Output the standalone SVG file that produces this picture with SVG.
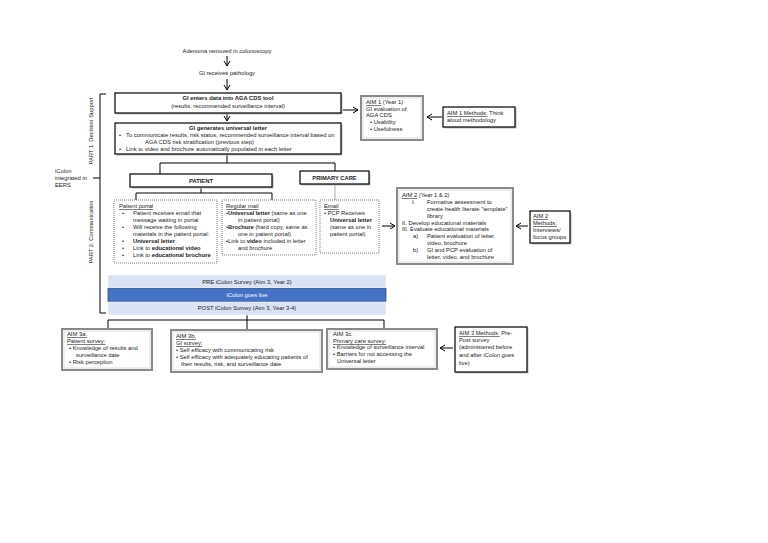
<svg xmlns="http://www.w3.org/2000/svg" width="768" height="543" viewBox="0 0 768 543">
<style>
text{font-family:"Liberation Sans",Arial,sans-serif;font-size:5.8px;fill:#222}
.b{font-weight:bold}
.c{text-anchor:middle}
.u{text-decoration:underline}
.blk{fill:#fff;stroke:#000;stroke-width:1.2}
.shd{fill:#bdbdbd;stroke:none}
.gry{fill:#fff;stroke:#8a8a8a;stroke-width:2}
.gin{fill:none;stroke:#d4d4d4;stroke-width:0.8}
.dot{fill:#fff;stroke:#555;stroke-width:0.8;stroke-dasharray:1 1}
.ln{fill:none;stroke:#000;stroke-width:1}
.bar{fill:#dae3f3;stroke:#fff;stroke-width:0.5}
</style>
<defs>
<marker id="ah" markerWidth="8" markerHeight="8" refX="6" refY="4" orient="auto" markerUnits="userSpaceOnUse">
<path d="M1,1 L6,4 L1,7" fill="none" stroke="#000" stroke-width="1"/>
</marker>
</defs>
<rect width="768" height="543" fill="#fff"/>

<g id="connectors">
<line class="ln" x1="227" y1="56" x2="227" y2="66" marker-end="url(#ah)"/>
<line class="ln" x1="227" y1="79" x2="227" y2="90" marker-end="url(#ah)"/>
<line class="ln" x1="227" y1="113" x2="227" y2="121" marker-end="url(#ah)"/>
<line class="ln" x1="343" y1="110" x2="358" y2="110" marker-end="url(#ah)"/>
<line class="ln" x1="442" y1="117" x2="427" y2="117" marker-end="url(#ah)"/>
<polyline class="ln" points="227,154 227,163"/>
<polyline class="ln" points="160,174 160,163 335,163 335,171"/>
<polyline class="ln" points="201,187 201,193"/>
<polyline class="ln" points="136,200 136,193 272,193 272,200"/>
<polyline class="ln" points="335,184 335,200" style="stroke:#888;stroke-width:0.7"/>
<line class="ln" x1="382" y1="226" x2="395" y2="226" marker-end="url(#ah)"/>
<line class="ln" x1="528" y1="226" x2="516" y2="226" marker-end="url(#ah)"/>
<polyline class="ln" points="247,315 247,320"/>
<polyline class="ln" points="108,329 108,320 384,320 384,329"/>
<polyline class="ln" points="247,320 247,330"/>
<line class="ln" x1="453" y1="348" x2="440" y2="348" marker-end="url(#ah)"/>
<polyline class="ln" points="106,94 100,94 100,313 106,313"/>
<line class="ln" x1="93" y1="178" x2="100" y2="178"/>
</g>

<g id="labels">
<text class="c" x="227" y="53">Adenoma removed in colonoscopy</text>
<text class="c" x="227" y="75">GI receives pathology</text>
<text transform="translate(93,131) rotate(-90)" class="c">PART 1. Decision Support</text>
<text transform="translate(93,232) rotate(-90)" class="c">PART 2. Communication</text>
<text x="55" y="173">iColon</text>
<text x="55" y="180">integrated in</text>
<text x="55" y="187">EERS</text>
</g>

<g id="gi-enters">
<rect class="shd" x="116.5" y="94.5" width="226" height="20"/>
<rect class="blk" x="115" y="93" width="226" height="20"/>
<text class="c b" x="228" y="100">GI enters data into AGA CDS tool</text>
<text class="c" x="228" y="108">(results, recommended surveillance interval)</text>
</g>

<g id="gi-generates">
<rect class="shd" x="116.5" y="124.5" width="226" height="31"/>
<rect class="blk" x="115" y="123" width="226" height="31"/>
<text class="c b" x="228" y="130">GI generates universal letter</text>
<text x="119" y="137">•</text>
<text x="126" y="137">To communicate results, risk status, recommended surveillance interval based on</text>
<text x="145" y="144">AGA CDS risk stratification (previous step)</text>
<text x="119" y="151">•</text>
<text x="126" y="151">Link to video and brochure automatically populated in each letter</text>
</g>

<g id="aim1">
<rect class="gry" x="361" y="96" width="62" height="44"/>
<rect class="gin" x="363" y="98" width="58" height="40"/>
<text x="366" y="104"><tspan class="u">AIM 1</tspan>  (Year 1)</text>
<text x="366" y="111">GI evaluation of</text>
<text x="366" y="117">AGA CDS</text>
<text x="370" y="124">•   Usability</text>
<text x="370" y="131">•   Usefulness</text>
</g>

<g id="aim1-methods">
<rect class="shd" x="444.5" y="108.5" width="72" height="20"/>
<rect class="blk" x="443" y="107" width="72" height="20"/>
<text x="447" y="115"><tspan class="u">AIM 1 Methods:</tspan> Think</text>
<text x="447" y="122">aloud methodology</text>
</g>

<g id="patient">
<rect class="shd" x="131.5" y="175.5" width="142" height="13"/>
<rect class="blk" x="130" y="174" width="142" height="13"/>
<text class="c b" x="201" y="183">PATIENT</text>
</g>

<g id="primary-care">
<rect class="shd" x="301.5" y="172.5" width="69" height="13"/>
<rect class="blk" x="300" y="171" width="69" height="13"/>
<text class="c b" x="334.5" y="180">PRIMARY CARE</text>
</g>

<g id="patient-portal">
<rect class="dot" x="114" y="200" width="103" height="63"/>
<text class="u" x="119" y="208">Patient portal</text>
<text x="122" y="215">•</text><text x="133" y="215">Patient receives email that</text>
<text x="133" y="222">message waiting in portal</text>
<text x="122" y="229">•</text><text x="133" y="229">Will receive the following</text>
<text x="133" y="236">materials in the patient portal:</text>
<text x="122" y="243">•</text><text class="b" x="133" y="243">Universal letter</text>
<text x="122" y="250">•</text><text x="133" y="250">Link to <tspan class="b">educational video</tspan></text>
<text x="122" y="257">•</text><text x="133" y="257">Link to <tspan class="b">educational brochure</tspan></text>
</g>

<g id="regular-mail">
<rect class="dot" x="222" y="200" width="94" height="55"/>
<text class="u" x="226" y="208">Regular mail</text>
<text x="226" y="215">•<tspan class="b">Universal letter</tspan> (same as one</text>
<text x="238" y="222">in patient portal)</text>
<text x="226" y="229">•<tspan class="b">Brochure</tspan> (hard copy, same as</text>
<text x="238" y="236">one in patient portal)</text>
<text x="226" y="243">•Link to <tspan class="b">video</tspan> included in letter</text>
<text x="238" y="250">and brochure</text>
</g>

<g id="email">
<rect class="dot" x="320" y="200" width="59" height="53"/>
<text class="u" x="324" y="208">Email</text>
<text x="324" y="215">• PCP Receives</text>
<text class="b" x="330" y="222">Universal letter</text>
<text x="330" y="229">(same as  one in</text>
<text x="330" y="236">patient portal)</text>
</g>

<g id="aim2">
<rect class="gry" x="397" y="188" width="116" height="76"/>
<rect class="gin" x="399" y="190" width="112" height="72"/>
<text x="402" y="197"><tspan class="u">AIM 2</tspan>  (Year 1 &amp; 2)</text>
<text x="412" y="204">I.</text><text x="427" y="204">Formative assessment to</text>
<text x="427" y="211">create health literate "template"</text>
<text x="427" y="218">library</text>
<text x="402" y="225">II.  Develop educational materials</text>
<text x="402" y="231">III. Evaluate educational materials</text>
<text x="413" y="238">a)</text><text x="427" y="238">Patient evaluation of letter,</text>
<text x="427" y="245">video, brochure</text>
<text x="413" y="252">b)</text><text x="427" y="252">GI and PCP evaluation of</text>
<text x="427" y="259">letter, video, and brochure</text>
</g>

<g id="aim2-methods">
<rect class="shd" x="531.5" y="212.5" width="40" height="32"/>
<rect class="blk" x="530" y="211" width="40" height="32"/>
<text class="u" x="533" y="218">AIM 2</text>
<text class="u" x="533" y="225">Methods:</text>
<text x="533" y="232">Interviews/</text>
<text x="533" y="239">focus groups</text>
</g>

<g id="survey-bars">
<rect class="bar" x="108" y="275" width="278" height="13"/>
<text class="c" x="247" y="284">PRE iColon Survey (Aim 3, Year 2)</text>
<rect x="108" y="288.5" width="278" height="13" fill="#4472c4" stroke="#2f528f" stroke-width="0.8"/>
<text class="c" x="247" y="297" style="fill:#fff">iColon goes live</text>
<rect class="bar" x="108" y="302" width="278" height="13"/>
<text class="c" x="247" y="310">POST iColon Survey (Aim 3, Year 3-4)</text>
</g>

<g id="aim3a">
<rect class="gry" x="62" y="329" width="90" height="41"/>
<rect class="gin" x="64" y="331" width="86" height="37"/>
<text class="u" x="67" y="336">AIM 3a.</text>
<text class="u" x="67" y="343">Patient survey:</text>
<text x="69" y="350">• Knowledge of results and</text>
<text x="76" y="357">surveillance date</text>
<text x="69" y="364">• Risk perception</text>
</g>

<g id="aim3b">
<rect class="gry" x="171" y="330" width="151" height="42"/>
<rect class="gin" x="173" y="332" width="147" height="38"/>
<text class="u" x="176" y="338">AIM 3b.</text>
<text class="u" x="176" y="345">GI survey:</text>
<text x="176" y="352">• Self efficacy with communicating risk</text>
<text x="176" y="359">• Self efficacy with adequately educating patients of</text>
<text x="181" y="366">their results, risk, and surveillance date</text>
</g>

<g id="aim3c">
<rect class="gry" x="327" y="329" width="110" height="40"/>
<rect class="gin" x="329" y="331" width="106" height="36"/>
<text x="333" y="336">AIM 3c.</text>
<text class="u" x="333" y="343">Primary care survey:</text>
<text x="333" y="349">• Knowledge of surveillance interval</text>
<text x="333" y="356">• Barriers for not accessing the</text>
<text x="337" y="363">Universal letter</text>
</g>

<g id="aim3-methods">
<rect class="shd" x="456.5" y="328.5" width="72" height="45"/>
<rect class="blk" x="455" y="327" width="72" height="45"/>
<text x="459" y="335"><tspan class="u">AIM 3 Methods:</tspan> Pre-</text>
<text x="459" y="342">Post survey</text>
<text x="459" y="349">(administered before</text>
<text x="459" y="357">and after iColon goes</text>
<text x="459" y="365">live)</text>
</g>
</svg>
